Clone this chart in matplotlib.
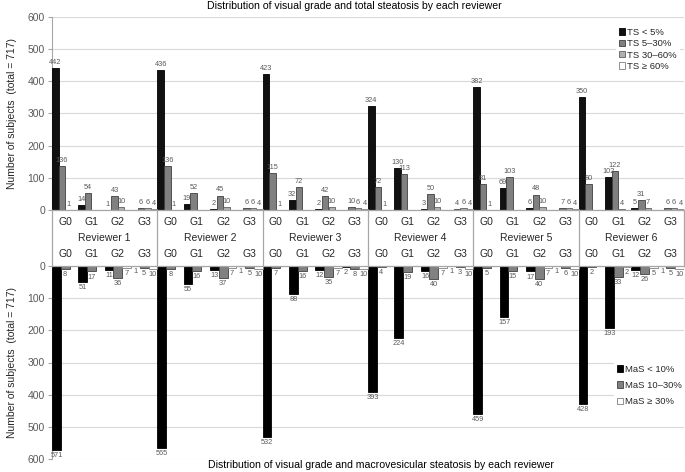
import matplotlib
matplotlib.use('Agg')
import matplotlib.pyplot as plt
import numpy as np

plt.rcParams['font.family'] = ['Liberation Sans', 'DejaVu Sans']

reviewers = ['Reviewer 1', 'Reviewer 2', 'Reviewer 3', 'Reviewer 4', 'Reviewer 5', 'Reviewer 6']
grades = ['G0', 'G1', 'G2', 'G3']

ts_names = ['TS < 5%', 'TS 5–30%', 'TS 30–60%', 'TS ≥ 60%']
# order: reviewer 1..6, each G0..G3
ts_lt5 = [442, 14, 1, 0, 436, 19, 2, 0, 423, 32, 2, 0, 324, 130, 3, 0, 382, 69, 6, 0, 350, 102, 5, 0]
ts_5_30 = [136, 54, 43, 6, 136, 52, 45, 6, 115, 72, 42, 10, 72, 113, 50, 4, 81, 103, 48, 7, 80, 122, 31, 6]
ts_30_60 = [1, 0, 10, 6, 1, 0, 10, 6, 1, 0, 10, 6, 1, 0, 10, 6, 1, 0, 10, 6, 0, 4, 7, 6]
ts_ge60 = [0, 0, 0, 4, 0, 0, 0, 4, 0, 0, 0, 4, 0, 0, 0, 4, 0, 0, 0, 4, 0, 0, 0, 4]

mas_names = ['MaS < 10%', 'MaS 10–30%', 'MaS ≥ 30%']
mas_lt10 = [571, 51, 11, 1, 565, 55, 13, 1, 532, 88, 12, 2, 393, 224, 16, 1, 459, 157, 17, 1, 428, 193, 12, 1]
mas_10_30 = [8, 17, 36, 5, 8, 16, 37, 5, 7, 16, 35, 8, 4, 19, 40, 3, 5, 15, 40, 6, 2, 33, 26, 5]
mas_ge30 = [0, 0, 7, 10, 0, 0, 7, 10, 0, 0, 7, 10, 0, 0, 7, 10, 0, 0, 7, 10, 0, 2, 5, 10]

yticks = [0, 100, 200, 300, 400, 500, 600]

W, H = 685, 472
fig = plt.figure(figsize=(W / 100, H / 100), dpi=100)

left, right = 52, 684
top_top, top_zero = 17, 210
bot_zero, bot_bottom = 266, 459

def fx(px):
    return px / W

def fy(py):
    return 1 - py / H

ax1 = fig.add_axes([fx(left), fy(top_zero), fx(right - left), (top_zero - top_top) / H])
ax2 = fig.add_axes([fx(left), fy(bot_bottom), fx(right - left), (bot_bottom - bot_zero) / H])
axm = fig.add_axes([fx(left), fy(bot_zero), fx(right - left), (bot_zero - top_zero) / H])

grid_c = '#d9d9d9'
axis_c = '#a6a6a6'
lab_c = '#595959'

ngroups = len(reviewers) * len(grades)
base = np.arange(ngroups)

ts_series = [ts_lt5, ts_5_30, ts_30_60, ts_ge60]
ts_face = ['#111111', '#808080', '#b0b0b0', '#ffffff']
ts_edge = ['#000000', '#404040', '#606060', '#7f7f7f']
w = 1 / 4
for j, (vals, name) in enumerate(zip(ts_series, ts_names)):
    xs = base + (j + 0.5) * w
    ax1.bar(xs, vals, width=w, color=ts_face[j], edgecolor=ts_edge[j],
            linewidth=0.6, label=name, zorder=3)
    for x, v in zip(xs, vals):
        if v > 0:
            ax1.annotate(str(v), (x, v), xytext=(0, 1.5), textcoords='offset points',
                         ha='center', va='bottom', fontsize=5.3, color=lab_c, zorder=4)

mas_series = [mas_lt10, mas_10_30, mas_ge30]
mas_face = ['#000000', '#808080', '#ffffff']
mas_edge = ['#000000', '#404040', '#7f7f7f']
w2 = 1 / 3
for j, (vals, name) in enumerate(zip(mas_series, mas_names)):
    xs = base + (j + 0.5) * w2
    ax2.bar(xs, vals, width=w2, color=mas_face[j], edgecolor=mas_edge[j],
            linewidth=0.6, label=name, zorder=3)
    for x, v in zip(xs, vals):
        if v > 0:
            ax2.annotate(str(v), (x, v), xytext=(0, -1.5), textcoords='offset points',
                         ha='center', va='top', fontsize=5.3, color=lab_c, zorder=4)

for ax in (ax1, ax2):
    ax.set_xlim(0, ngroups)
    ax.set_ylim(0, 600)
    ax.set_yticks(yticks)
    ax.set_yticklabels([str(t) for t in yticks], fontsize=7.5, color=lab_c)
    ax.yaxis.grid(True, color=grid_c, linewidth=0.8, zorder=0)
    ax.set_axisbelow(True)
    ax.set_xticks([])
    for s in ('top', 'right', 'bottom'):
        ax.spines[s].set_visible(False)
    ax.spines['left'].set_color(axis_c)
    ax.spines['left'].set_linewidth(0.8)
    ax.tick_params(axis='y', length=3, color=axis_c, pad=2)
    ax.set_facecolor('none')
ax2.invert_yaxis()

# category box
axm.set_xlim(0, ngroups)
axm.set_ylim(0, 1)
axm.axis('off')
axm.plot([0, ngroups], [1, 1], color=axis_c, lw=0.9, clip_on=False)
axm.plot([0, ngroups], [0, 0], color=axis_c, lw=0.9, clip_on=False)
for r in range(len(reviewers) + 1):
    axm.plot([r * 4, r * 4], [0, 1], color=axis_c, lw=0.9, clip_on=False)
for i in range(ngroups):
    g = grades[i % 4]
    axm.text(i + 0.5, 0.79, g, ha='center', va='center', fontsize=7.5, color='#262626')
    axm.text(i + 0.5, 0.21, g, ha='center', va='center', fontsize=7.5, color='#262626')
for r, name in enumerate(reviewers):
    axm.text(r * 4 + 2, 0.5, name, ha='center', va='center', fontsize=7.5, color='#262626')

# y labels
ylab = 'Number of subjects  (total = 717)'
fig.text(fx(12), fy((top_top + top_zero) / 2), ylab, rotation=90, ha='center', va='center',
         fontsize=7.5, color='#262626')
fig.text(fx(12), fy((bot_zero + bot_bottom) / 2), ylab, rotation=90, ha='center', va='center',
         fontsize=7.5, color='#262626')

# titles
fig.text(fx(354), fy(6), 'Distribution of visual grade and total steatosis by each reviewer',
         ha='center', va='center', fontsize=7.6, color='#000000')
fig.text(fx(381), fy(465), 'Distribution of visual grade and macrovesicular steatosis by each reviewer',
         ha='center', va='center', fontsize=7.6, color='#000000')

# legends
leg1 = ax1.legend(loc='upper left', bbox_to_anchor=(fx(616), fy(25)), bbox_transform=fig.transFigure,
                  fontsize=6.8, frameon=True, facecolor='white', edgecolor='none', framealpha=1,
                  handlelength=0.65, handleheight=0.65, handletextpad=0.25, labelspacing=0.25,
                  borderpad=0.3, borderaxespad=0, fancybox=False)
for t in leg1.get_texts():
    t.set_color('#262626')
leg1.set_zorder(5)

leg2 = ax2.legend(loc='upper left', bbox_to_anchor=(fx(614), fy(362)), bbox_transform=fig.transFigure,
                  fontsize=6.8, frameon=True, facecolor='white', edgecolor='none', framealpha=1,
                  handlelength=0.65, handleheight=0.65, handletextpad=0.25, labelspacing=0.75,
                  borderpad=0.3, borderaxespad=0, fancybox=False)
for t in leg2.get_texts():
    t.set_color('#262626')
leg2.set_zorder(5)

fig.savefig('out.png', dpi=100)
